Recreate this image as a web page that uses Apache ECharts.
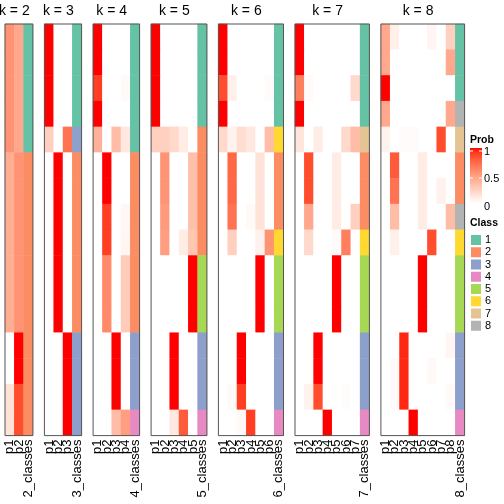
<!DOCTYPE html>
<html><head><meta charset="utf-8">
<script src="https://cdn.jsdelivr.net/npm/echarts/dist/echarts.min.js"></script>
<style>html,body{margin:0;padding:0;background:#fff}#c{width:504px;height:504px}</style>
</head><body><div id="c"></div>
<script>
// ---------------- data ----------------
const kValues = [2, 3, 4, 5, 6, 7, 8];
const rowCount = 16;

const probK2 = [
  [0.55,0.45],[0.55,0.45],[0.55,0.45],[0.55,0.45],[0.55,0.45],
  [0.42,0.55],[0.42,0.55],[0.42,0.55],[0.42,0.55],[0.42,0.55],[0.42,0.55],[0.42,0.55],
  [0,1],[0,1],
  [0.15,0.85],[0.15,0.85]
];
const classK2 = [1,1,1,1,1,2,2,2,2,2,2,2,2,2,2,2];

const probK3 = [
  [1,0,0],[1,0,0],[1,0,0],[1,0,0],
  [0.25,0,0.7],
  [0,1,0],[0,1,0],[0,1,0],[0,1,0],[0,1,0],[0,1,0],[0,1,0],
  [0,0,1],[0,0,1],[0,0,1],[0,0,1]
];
const classK3 = [1,1,1,1,3,2,2,2,2,2,2,2,3,3,3,3];

const probK4 = [
  [1,0,0,0],[1,0,0,0],[0.9,0,0,0.03],[1,0,0,0],
  [0.4,0,0.35,0.12],
  [0,1,0,0],[0,1,0,0],[0,0.9,0,0.04],[0,0.9,0,0.05],
  [0,0.6,0,0.27],[0,0.6,0,0.27],[0,0.6,0,0.27],
  [0,0,1,0],[0,0,1,0],[0,0,1,0],
  [0,0,0.35,0.5]
];
const classK4 = [1,1,1,1,1,2,2,2,2,2,2,2,3,3,3,4];

const probK5 = [
  [1,0,0,0,0],[1,0,0,0,0],[1,0,0,0,0],[1,0,0,0,0],
  [0.25,0.25,0.2,0.1,0],
  [0,0.55,0,0,0.33],[0,0.55,0,0,0.33],[0,0.52,0,0,0.33],[0,0.5,0,0.1,0.3],
  [0,0,0,0,1],[0,0,0,0,1],[0,0,0,0,1],
  [0,0,1,0,0],[0,0,1,0,0],[0,0,1,0,0],
  [0,0,0.12,0.8,0]
];
const classK5 = [1,1,1,1,2,2,2,2,2,5,5,5,3,3,3,4];

const probK6 = [
  [1,0,0,0,0,0],[1,0,0,0,0,0],[0.85,0.08,0,0,0,0.02],[1,0,0,0,0,0],
  [0.2,0.06,0.18,0.12,0,0.35],
  [0,0.75,0,0,0.15,0],[0,0.75,0,0,0.15,0],[0,0.7,0,0.03,0.15,0],
  [0,0.25,0,0,0.07,0.55],
  [0,0,0,0,1,0],[0,0,0,0,1,0],[0,0,0,0,1,0],
  [0,0,1,0,0,0],[0,0,1,0,0,0],[0,0.03,0.9,0,0,0],
  [0,0,0.03,0.9,0,0]
];
const classK6 = [1,1,1,1,6,2,2,2,6,5,5,5,3,3,3,4];

const probK7 = [
  [1,0,0,0,0,0,0],[1,0,0,0,0,0,0],[0.65,0.03,0,0,0,0,0.2],[1,0,0,0,0,0,0],
  [0.13,0,0.1,0,0,0.2,0.35],
  [0,0.85,0,0,0.1,0,0],[0,0.85,0,0,0.1,0,0],[0,0.45,0,0,0.1,0,0.25],
  [0,0.2,0,0,0.02,0.65,0],
  [0,0,0,0,1,0,0],[0,0,0,0,1,0,0],[0,0,0,0,1,0,0],
  [0,0,1,0,0,0,0],[0,0,1,0,0,0,0],[0,0.06,0.85,0,0,0.01,0],
  [0,0,0,1,0,0,0]
];
const classK7 = [1,1,1,1,7,2,2,2,6,5,5,5,3,3,3,4];

const probK8 = [
  [0.45,0.08,0,0,0,0.05,0,0.25],
  [0.45,0,0,0,0,0,0,0.45],
  [1,0,0,0,0,0,0,0],
  [0.45,0,0,0,0,0,0,0.45],
  [0.06,0,0.02,0.02,0,0,0.85,0],
  [0,0.8,0,0,0.1,0,0,0],
  [0,0.7,0,0,0.1,0,0.07,0],
  [0,0.35,0,0,0.1,0,0,0.35],
  [0,0.08,0,0,0,0.85,0,0],
  [0,0,0,0,1,0,0,0],[0,0,0,0,1,0,0,0],[0,0,0,0,1,0,0,0],
  [0,0,0.95,0,0,0,0,0.05],
  [0,0.03,0.95,0,0,0.03,0,0],
  [0,0.03,0.95,0,0,0,0,0.03],
  [0,0,0,1,0,0,0,0]
];
const classK8 = [1,1,1,8,7,2,2,8,6,5,5,5,3,3,3,4];

const probTables = [probK2, probK3, probK4, probK5, probK6, probK7, probK8];
const classTables = [classK2, classK3, classK4, classK5, classK6, classK7, classK8];
const classLabels = ['1','2','3','4','5','6','7','8'];
const probTickLabels = ['1', '0.5', '0'];

// ---------------- styles ----------------
const classColors = ['#66C2A5','#FC8D62','#8DA0CB','#E78AC3','#A6D854','#FFD92F','#E5C494','#B3B3B3'];
const FONT = '"Liberation Sans", Arial, Helvetica, sans-serif';

// LAB interpolation white -> red (like colorRamp2)
function toLin(c){ c/=255; return c<=0.04045? c/12.92 : Math.pow((c+0.055)/1.055,2.4); }
function fromLin(c){ const v = c<=0.0031308? 12.92*c : 1.055*Math.pow(c,1/2.4)-0.055; return Math.max(0,Math.min(255,Math.round(v*255))); }
const Xn=0.95047, Yn=1, Zn=1.08883;
function f(t){ return t>0.008856? Math.cbrt(t) : 7.787*t+16/116; }
function fi(t){ return t>0.206893? t*t*t : (t-16/116)/7.787; }
function rgb2lab(r,g,b){
  const R=toLin(r),G=toLin(g),B=toLin(b);
  const X=(0.4124*R+0.3576*G+0.1805*B)/Xn, Y=(0.2126*R+0.7152*G+0.0722*B)/Yn, Z=(0.0193*R+0.1192*G+0.9505*B)/Zn;
  const fx=f(X),fy=f(Y),fz=f(Z);
  return [116*fy-16, 500*(fx-fy), 200*(fy-fz)];
}
function lab2rgb(L,a,b){
  const fy=(L+16)/116, fx=fy+a/500, fz=fy-b/200;
  const X=fi(fx)*Xn, Y=fi(fy)*Yn, Z=fi(fz)*Zn;
  const R= 3.2406*X-1.5372*Y-0.4986*Z, G=-0.9689*X+1.8758*Y+0.0415*Z, B=0.0557*X-0.2040*Y+1.0570*Z;
  return 'rgb('+fromLin(R)+','+fromLin(G)+','+fromLin(B)+')';
}
const labW = rgb2lab(255,255,255), labR = rgb2lab(255,0,0);
function probColor(t){ return lab2rgb(labW[0]+(labR[0]-labW[0])*t, labW[1]+(labR[1]-labW[1])*t, labW[2]+(labR[2]-labW[2])*t); }
const NSTOP = 21;
const stops = [];
for (let i=0;i<NSTOP;i++) stops.push(probColor(i/(NSTOP-1)));

// ---------------- layout ----------------
const colW = 9.3, gapW = 11.5, left0 = 5, gridTop = 24, gridH = 411.6;
const grids=[], xAxes=[], yAxes=[], series=[], graphics=[];
const probIdx=[], classIdx=[];
let x = left0;
kValues.forEach((k, i) => {
  const w = (k+1)*colW;
  grids.push({left:x, top:gridTop, width:w, height:gridH, show:true, z:5,
    backgroundColor:'transparent', borderColor:'#555', borderWidth:1,
    containLabel:false, outerBoundsMode:'none'});
  const cats = [];
  for (let c=1;c<=k;c++) cats.push('p'+c);
  cats.push(k+'_classes');
  xAxes.push({type:'category', gridIndex:i, data:cats, position:'bottom',
    axisLine:{show:false}, axisTick:{show:false}, splitLine:{show:false},
    axisLabel:{interval:0, rotate:90, margin:4, fontSize:13, color:'#000', fontFamily:FONT}});
  const rows=[]; for (let r=0;r<rowCount;r++) rows.push(String(r));
  yAxes.push({type:'category', gridIndex:i, data:rows, inverse:true, show:false});
  const pd=[];
  probTables[i].forEach((row, r) => row.forEach((v, c) => pd.push([c, r, v])));
  probIdx.push(series.length);
  series.push({type:'heatmap', xAxisIndex:i, yAxisIndex:i, data:pd, emphasis:{disabled:true}, itemStyle:{borderWidth:0}});
  const cd = classTables[i].map((v, r) => [k, r, v]);
  classIdx.push(series.length);
  series.push({type:'heatmap', xAxisIndex:i, yAxisIndex:i, data:cd, emphasis:{disabled:true}, itemStyle:{borderWidth:0}});
  graphics.push({type:'text', x: x + k*colW/2, y: 11.5, style:{text:'k = '+k, fontSize:14, fontFamily:FONT, fill:'#000', textAlign:'center', textVerticalAlign:'middle'}});
  x += w + gapW;
});

// Prob legend
const legX = 470;
graphics.push({type:'text', x:legX, y:140, style:{text:'Prob', fontSize:10.5, fontWeight:'bold', fontFamily:FONT, fill:'#000', textVerticalAlign:'middle'}});
const gradStops = stops.map((c, i) => ({offset: 1 - i/(NSTOP-1), color: c})).reverse();
graphics.push({type:'rect', shape:{x:legX, y:148, width:12, height:55}, style:{fill:{type:'linear', x:0, y:0, x2:0, y2:1, colorStops:gradStops}}});
const tickY = [151.5, 178.5, 206.5];
probTickLabels.forEach((t, i) => {
  graphics.push({type:'text', x:484, y:tickY[i], style:{text:t, fontSize:11, fontFamily:FONT, fill:'#000', textVerticalAlign:'middle'}});
});
[151, 178].forEach(yy => {
  graphics.push({type:'line', shape:{x1:legX, y1:yy, x2:legX+3, y2:yy}, style:{stroke:'#fff', lineWidth:1}});
  graphics.push({type:'line', shape:{x1:legX+9, y1:yy, x2:legX+12, y2:yy}, style:{stroke:'#fff', lineWidth:1}});
});
graphics.push({type:'text', x:legX, y:223, style:{text:'Class', fontSize:10.5, fontWeight:'bold', fontFamily:FONT, fill:'#000', textVerticalAlign:'middle'}});

const option = {
  animation:false,
  textStyle:{fontFamily:FONT},
  grid: grids, xAxis: xAxes, yAxis: yAxes, series: series,
  visualMap: [
    {type:'continuous', min:0, max:1, seriesIndex:probIdx, dimension:2, show:false, inRange:{color:stops}},
    {type:'piecewise', seriesIndex:classIdx, dimension:2, show:true, orient:'vertical', inverse:true, align:'left',
     left:471, top:234.5, padding:0, itemWidth:10, itemHeight:10, itemGap:1.25, textGap:4,
     itemSymbol:'rect', selectedMode:false,
     textStyle:{fontSize:11, color:'#000', fontFamily:FONT},
     pieces: classLabels.map((l, i) => ({value: i+1, label: l, color: classColors[i]}))}
  ],
  graphic: graphics
};
const chart = echarts.init(document.getElementById('c'), null, {renderer:'canvas'});
chart.setOption(option);
</script></body></html>
